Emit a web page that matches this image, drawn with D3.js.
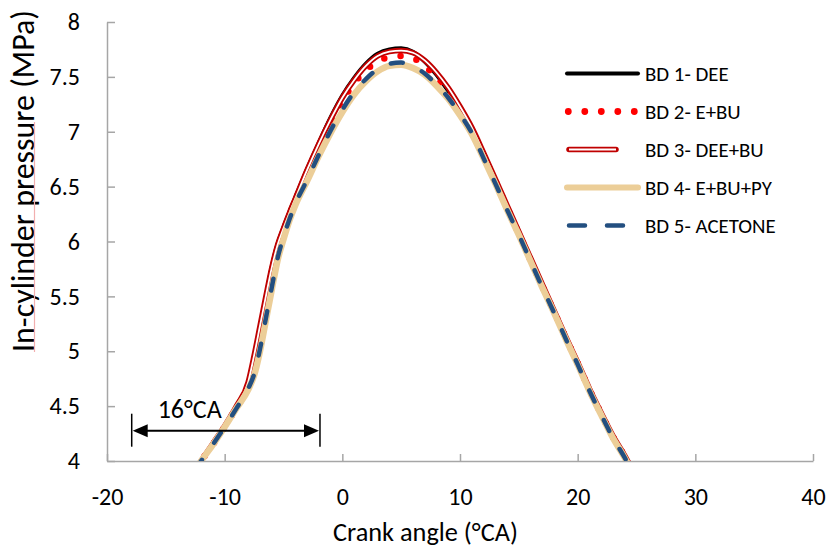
<!DOCTYPE html>
<html>
<head>
<meta charset="utf-8">
<script src="https://cdn.jsdelivr.net/npm/d3@7"></script>
<style>
  html, body { margin: 0; padding: 0; background: #fff; }
  svg { display: block; }
  text { font-family: Carlito, Lato, "Open Sans", sans-serif; fill: #000; }
</style>
</head>
<body>
<svg id="chart" width="827" height="549"></svg>
<script>
// Crank angle (°CA) sample points shared by every series
const crankAngle = [-12.5, -12, -11, -10, -9, -8, -7.5, -7, -6.5, -6, -5.5, -5, -4.5, -4,
  -3, -2, -1, 0, 1, 2, 3, 4, 5, 6, 7, 8, 9, 10, 11, 12, 13, 14, 15, 16, 17, 18, 19, 20,
  21, 22, 23, 24, 24.5];

// In-cylinder pressure (MPa) for each blend
const bd1Dee = [3.92, 4.00, 4.16, 4.32, 4.50, 4.71, 4.95, 5.22, 5.50, 5.77, 5.98, 6.13, 6.27, 6.40,
  6.66, 6.90, 7.13, 7.33, 7.49, 7.62, 7.71, 7.75, 7.76, 7.73, 7.64, 7.52, 7.37, 7.20, 7.01, 6.78,
  6.54, 6.30, 6.07, 5.83, 5.59, 5.35, 5.11, 4.88, 4.64, 4.42, 4.21, 4.03, 3.93];
const bd2EBu = [3.92, 4.00, 4.15, 4.31, 4.49, 4.69, 4.90, 5.16, 5.44, 5.71, 5.93, 6.09, 6.24, 6.37,
  6.62, 6.86, 7.08, 7.28, 7.44, 7.56, 7.64, 7.68, 7.69, 7.67, 7.60, 7.49, 7.36, 7.19, 7.01, 6.78,
  6.55, 6.31, 6.07, 5.83, 5.59, 5.36, 5.12, 4.89, 4.65, 4.43, 4.22, 4.04, 3.94];
const bd3DeeBu = [3.92, 4.00, 4.16, 4.32, 4.50, 4.72, 4.96, 5.23, 5.50, 5.76, 5.97, 6.12, 6.26, 6.39,
  6.65, 6.89, 7.11, 7.31, 7.47, 7.60, 7.69, 7.73, 7.74, 7.72, 7.65, 7.54, 7.40, 7.23, 7.04, 6.81,
  6.57, 6.33, 6.09, 5.85, 5.61, 5.37, 5.13, 4.90, 4.66, 4.44, 4.23, 4.05, 3.95];
const bd4EBuPy = [3.92, 4.00, 4.15, 4.31, 4.48, 4.65, 4.78, 5.00, 5.28, 5.56, 5.83, 6.02, 6.19, 6.33,
  6.55, 6.78, 6.99, 7.18, 7.34, 7.46, 7.55, 7.60, 7.61, 7.58, 7.52, 7.42, 7.30, 7.15, 6.98, 6.76,
  6.53, 6.29, 6.06, 5.82, 5.58, 5.35, 5.11, 4.88, 4.64, 4.42, 4.21, 4.03, 3.93];
const bd5Acetone = [3.92, 4.00, 4.15, 4.31, 4.48, 4.66, 4.79, 5.02, 5.30, 5.58, 5.85, 6.04, 6.20, 6.34,
  6.56, 6.79, 7.01, 7.20, 7.36, 7.48, 7.57, 7.62, 7.63, 7.60, 7.53, 7.43, 7.31, 7.16, 6.99, 6.76,
  6.53, 6.29, 6.06, 5.82, 5.58, 5.35, 5.11, 4.88, 4.64, 4.42, 4.21, 4.03, 3.93];

const seriesNames = ["BD 1- DEE", "BD 2- E+BU", "BD 3- DEE+BU", "BD 4- E+BU+PY", "BD 5- ACETONE"];

// Axis ticks
const xTicks = [-20, -10, 0, 10, 20, 30, 40];
const xTickLabels = ["-20", "-10", "0", "10", "20", "30", "40"];
const yTicks = [4, 4.5, 5, 5.5, 6, 6.5, 7, 7.5, 8];
const yTickLabels = ["4", "4.5", "5", "5.5", "6", "6.5", "7", "7.5", "8"];

// Ignition-delay span annotation (°CA)
const spanEnd = -1.9;
const spanWidth = 16;
const spanLabel = "16°CA";
const spanPressure = 4.276;

const xTitle = "Crank angle (°CA)";
const yTitle = "In-cylinder pressure (MPa)";

// ---- layout ----
const svg = d3.select("#chart");
const plot = { left: 107, right: 813, top: 22, bottom: 461 };
const axisColor = "#A6A6A6";

const x = d3.scaleLinear().domain([-20, 40]).range([plot.left, plot.right]);
const y = d3.scaleLinear().domain([4, 8]).range([plot.bottom, plot.top]);

function fitWidth(sel, target) {
  const w = sel.node().getComputedTextLength();
  const fs = parseFloat(sel.attr("font-size"));
  sel.attr("font-size", (fs * target / w).toFixed(2));
}

// ---- axes ----
const xAxis = svg.append("g")
  .attr("transform", `translate(0,${plot.bottom})`)
  .call(d3.axisBottom(x).tickValues(xTicks).tickFormat((d, i) => xTickLabels[i])
    .tickSizeInner(-7).tickSizeOuter(0).tickPadding(0));
xAxis.selectAll("text").attr("font-size", 24).attr("y", 44).attr("dy", null)
  .attr("fill", "#000").style("font-family", "Carlito, Lato, sans-serif");

const yAxis = svg.append("g")
  .attr("transform", `translate(${plot.left},0)`)
  .call(d3.axisLeft(y).tickValues(yTicks).tickFormat((d, i) => yTickLabels[i])
    .tickSizeInner(-8).tickSizeOuter(0).tickPadding(27));
yAxis.selectAll("text").attr("font-size", 24).attr("fill", "#000")
  .style("font-family", "Carlito, Lato, sans-serif");

[xAxis, yAxis].forEach(g => {
  g.select(".domain").attr("stroke", axisColor).attr("stroke-width", 1.5);
  g.selectAll(".tick line").attr("stroke", axisColor).attr("stroke-width", 1.5);
});

// axis titles
const xt = svg.append("text").attr("x", 425.5).attr("y", 541)
  .attr("text-anchor", "middle").attr("font-size", 24).text(xTitle);
fitWidth(xt, 185);

const ytg = svg.append("g").attr("transform", "translate(34,181) rotate(-90)");
const yt = ytg.append("text").attr("x", 0).attr("y", 0)
  .attr("text-anchor", "middle").attr("font-size", 24).text(yTitle);
fitWidth(yt, 342);
// proofing underline beneath the first words of the title
const ytLen = yt.node().getComputedTextLength();
ytg.append("line")
  .attr("x1", -ytLen / 2).attr("x2", -ytLen / 2 + 230)
  .attr("y1", 0.5).attr("y2", 0.5)
  .attr("stroke", "#F2AFAF").attr("stroke-width", 1.2);

// ---- series ----
svg.append("clipPath").attr("id", "plotClip")
  .append("rect").attr("x", plot.left).attr("y", 0)
  .attr("width", plot.right - plot.left).attr("height", plot.bottom);

const line = d3.line().curve(d3.curveMonotoneX)
  .x(d => x(d[0])).y(d => y(d[1]));
const pts = vals => crankAngle.map((a, i) => [a, vals[i]]);

const styles = [
  [{ stroke: "#000000", width: 4 }],
  [{ stroke: "#FF0000", width: 6.5, dash: "0,16.5" }],
  [{ stroke: "#C00000", width: 5.5 }, { stroke: "#FFFFFF", width: 1.8 }],
  [{ stroke: "#ECCE98", width: 6.5 }],
  [{ stroke: "#234F80", width: 4.5, dash: "12,21" }]
];
const seriesValues = [bd1Dee, bd2EBu, bd3DeeBu, bd4EBuPy, bd5Acetone];

const gSeries = svg.append("g").attr("clip-path", "url(#plotClip)");
seriesValues.forEach((vals, i) => {
  styles[i].forEach(s => {
    gSeries.append("path")
      .attr("d", line(pts(vals)))
      .attr("fill", "none")
      .attr("stroke", s.stroke)
      .attr("stroke-width", s.width)
      .attr("stroke-linecap", "round")
      .attr("stroke-linejoin", "round")
      .attr("stroke-dasharray", s.dash || null);
  });
});

// ---- span annotation ----
const ax0 = x(spanEnd - spanWidth), ax1 = x(spanEnd), ay = y(spanPressure);
const ann = svg.append("g");
ann.append("line").attr("x1", ax0 + 12).attr("x2", ax1 - 12).attr("y1", ay).attr("y2", ay)
  .attr("stroke", "#000").attr("stroke-width", 2);
[ax0, ax1].forEach((px, k) => {
  ann.append("line").attr("x1", px).attr("x2", px).attr("y1", ay - 17).attr("y2", ay + 16)
    .attr("stroke", "#000").attr("stroke-width", 1.5);
  const dir = k === 0 ? 1 : -1;
  ann.append("path")
    .attr("d", `M${px + dir * 1},${ay} L${px + dir * 16},${ay - 6.5} L${px + dir * 16},${ay + 6.5} Z`)
    .attr("fill", "#000");
});
const sl = ann.append("text").attr("x", ax0 + 26).attr("y", ay - 12.5)
  .attr("font-size", 21).text(spanLabel);
fitWidth(sl, 64);

// ---- legend ----
const legend = svg.append("g");
const legendX0 = 567, legendX1 = 638, legendTextX = 645;
seriesNames.forEach((name, i) => {
  const ly = 73.5 + i * 38;
  const row = legend.append("g");
  if (i === 0) {
    row.append("line").attr("x1", legendX0).attr("x2", legendX1).attr("y1", ly).attr("y2", ly)
      .attr("stroke", "#000").attr("stroke-width", 4).attr("stroke-linecap", "round");
  } else if (i === 1) {
    row.append("line").attr("x1", 568.3).attr("x2", 634.5).attr("y1", ly).attr("y2", ly)
      .attr("stroke", "#FF0000").attr("stroke-width", 6.8).attr("stroke-linecap", "round")
      .attr("stroke-dasharray", "0,16.5");
  } else if (i === 2) {
    row.append("line").attr("x1", legendX0 + 2).attr("x2", 616).attr("y1", ly).attr("y2", ly)
      .attr("stroke", "#C00000").attr("stroke-width", 5.5).attr("stroke-linecap", "round");
    row.append("line").attr("x1", legendX0 + 2).attr("x2", 616).attr("y1", ly).attr("y2", ly)
      .attr("stroke", "#FFFFFF").attr("stroke-width", 1.8).attr("stroke-linecap", "butt");
  } else if (i === 3) {
    row.append("line").attr("x1", legendX0).attr("x2", legendX1).attr("y1", ly).attr("y2", ly)
      .attr("stroke", "#ECCE98").attr("stroke-width", 6).attr("stroke-linecap", "round");
  } else {
    row.append("line").attr("x1", legendX0 + 2).attr("x2", 624).attr("y1", ly).attr("y2", ly)
      .attr("stroke", "#234F80").attr("stroke-width", 4.5).attr("stroke-linecap", "round")
      .attr("stroke-dasharray", "16,22");
  }
  const t = row.append("text").attr("x", legendTextX).attr("y", ly)
    .attr("dominant-baseline", "central").attr("font-size", 18).text(name);
  if (i === 3) fitWidth(t, 127);
});
// apply the same legend type size to every row
const legendSize = legend.selectAll("text").filter((d, i) => i === 3).attr("font-size");
legend.selectAll("text").attr("font-size", legendSize);
</script>
</body>
</html>
